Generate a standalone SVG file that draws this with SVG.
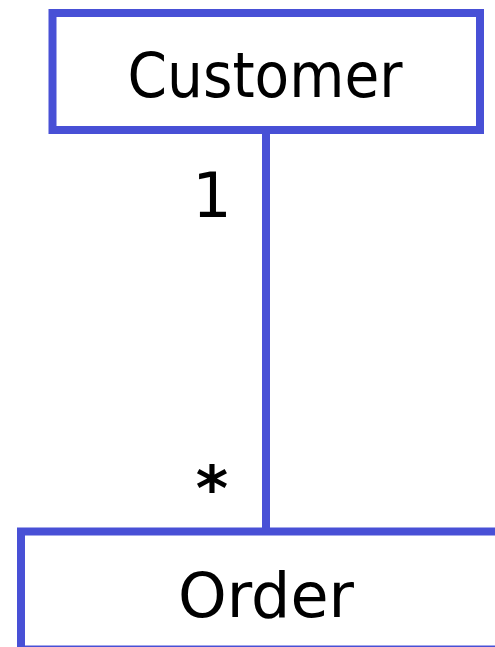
<svg xmlns="http://www.w3.org/2000/svg" width="495" height="647" viewBox="0 0 495 647">
  <style>
    .box { fill: #ffffff; stroke: #4850d6; stroke-width: 8; }
    .link { stroke: #4850d6; stroke-width: 8; fill: none; }
    .name { font-family: "DejaVu Sans", "Liberation Sans", sans-serif; font-size: 62px; fill: #000000; }
    .mult { font-family: "DejaVu Sans", "Liberation Sans", sans-serif; font-size: 62px; fill: #000000; }
  </style>
  <rect width="495" height="647" fill="#ffffff"/>
  <!-- association between the two classes -->
  <g id="connectors">
    <line class="link" x1="266" y1="130" x2="266" y2="532"/>
    <text class="mult" x="212" y="217" text-anchor="middle">1</text>
    <text class="mult" x="212" y="510" text-anchor="middle" font-weight="bold">*</text>
  </g>
  <g id="customer">
    <rect class="box" x="52.5" y="13" width="427.5" height="117"/>
    <text class="name" x="265" y="97" text-anchor="middle" textLength="275" lengthAdjust="spacingAndGlyphs">Customer</text>
  </g>
  <g id="order">
    <rect class="box" x="21" y="531.5" width="490" height="118"/>
    <text class="name" x="266" y="617" text-anchor="middle" textLength="176" lengthAdjust="spacingAndGlyphs">Order</text>
  </g>
</svg>
